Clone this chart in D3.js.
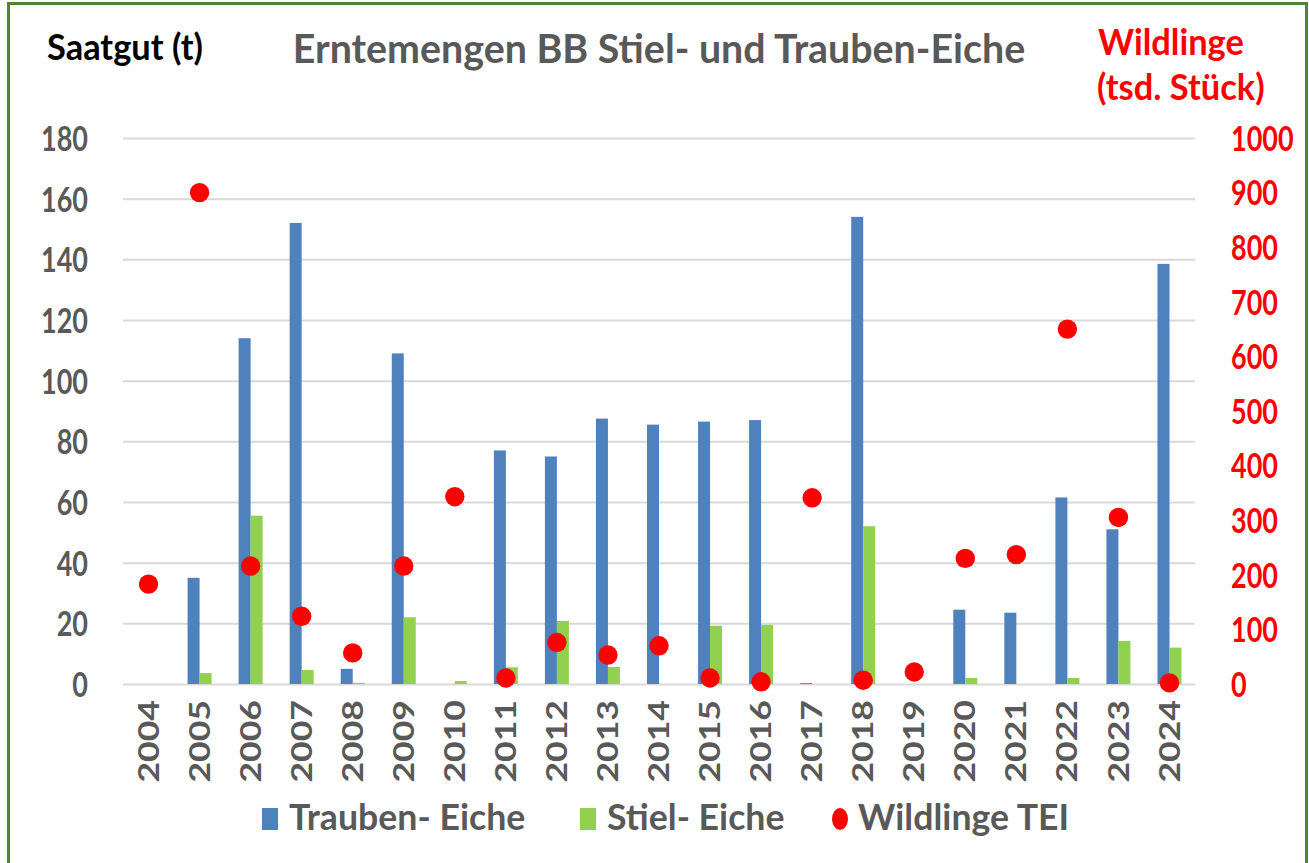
<!DOCTYPE html>
<html lang="de">
<head>
<meta charset="utf-8">
<title>Erntemengen BB Stiel- und Trauben-Eiche</title>
<script src="https://cdnjs.cloudflare.com/ajax/libs/d3/7.8.5/d3.min.js"></script>
<style>
  body { margin: 0; background: #fff; }
  svg text { font-family: Lato, "Open Sans", sans-serif; font-weight: bold; }
</style>
</head>
<body>
<div id="chart"></div>
<script>
// categories
var years = ["2004","2005","2006","2007","2008","2009","2010","2011","2012","2013","2014",
             "2015","2016","2017","2018","2019","2020","2021","2022","2023","2024"];
// Saatgut in t
var trauben = [0, 35, 114, 152, 5, 109, 0, 77, 75, 87.5, 85.5, 86.5, 87, 0.3, 154, 0, 24.5, 23.5, 61.5, 51, 138.5];
var stiel   = [0, 3.6, 55.5, 4.6, 0.4, 22, 1, 5.5, 20.8, 5.6, 0, 19.2, 19.5, 0, 52, 0, 2, 0, 2, 14.2, 12];
// Wildlinge in tsd. Stueck
var wildlinge = [183, 900, 216, 124, 57, 216, 343, 11, 76, 53, 70, 11, 4, 341, 7, 22, 230, 237, 650, 305, 2];
// tick labels
var leftTicks = [0, 20, 40, 60, 80, 100, 120, 140, 160, 180];
var rightTicks = [0, 100, 200, 300, 400, 500, 600, 700, 800, 900, 1000];

var W = 1309, H = 863;
var sy = 1.27; // text in the original is a bit stretched vertically
var sx = 1.23; // and the titles are wider than Lato
var grey = "#595959", red = "#ff0000";

var svg = d3.select("#chart").append("svg")
    .attr("width", W).attr("height", H);

// frame
svg.append("rect")
    .attr("x", 8.5).attr("y", 3.5)
    .attr("width", 1298).attr("height", 880)
    .attr("fill", "none").attr("stroke", "#548235").attr("stroke-width", 3);

var x = d3.scaleBand().domain(years).range([123, 1195]);
var yL = d3.scaleLinear().domain([0, 180]).range([684, 138]);
var yR = d3.scaleLinear().domain([0, 1000]).range([684, 138]);
var bw = 12;

// gridlines
svg.append("g")
    .attr("transform", "translate(123,0)")
    .call(d3.axisLeft(yL).tickValues(leftTicks).tickSize(-1072).tickFormat(""))
    .call(function(g){
        g.select(".domain").remove();
        g.selectAll("line").attr("stroke", "#d9d9d9").attr("stroke-width", 2);
    });

// left axis labels
svg.append("g")
    .attr("transform", "translate(88,0)")
    .call(d3.axisLeft(yL).tickValues(leftTicks).tickSize(0).tickPadding(0))
    .call(function(g){
        g.select(".domain").remove();
        g.selectAll("text")
            .attr("fill", grey).attr("font-size", 27)
            .attr("dy", "0.36em")
            .attr("transform", "scale(1," + sy + ")");
    });

// right axis labels
svg.append("g")
    .attr("transform", "translate(1231,0)")
    .call(d3.axisRight(yR).tickValues(rightTicks).tickSize(0).tickPadding(0).tickFormat(d3.format("d")))
    .call(function(g){
        g.select(".domain").remove();
        g.selectAll("text")
            .attr("fill", red).attr("font-size", 27)
            .attr("dy", "0.36em")
            .attr("transform", "scale(1," + sy + ")");
    });

// x axis labels
svg.append("g")
    .attr("transform", "translate(0,700)")
    .call(d3.axisBottom(x).tickSize(0).tickPadding(0))
    .call(function(g){
        g.select(".domain").remove();
        g.selectAll("text")
            .attr("fill", grey).attr("font-size", 28)
            .attr("text-anchor", "end")
            .attr("x", 0).attr("y", 0).attr("dy", "0.36em")
            .attr("transform", "scale(1," + sy + ") rotate(-90)");
    });

function cx(i){ return x(years[i]) + x.bandwidth() / 2; }

// bars
svg.append("g").selectAll("rect")
    .data(trauben).enter().append("rect")
    .attr("x", function(d,i){ return cx(i) - bw; })
    .attr("y", function(d){ return yL(d); })
    .attr("width", bw)
    .attr("height", function(d){ return yL(0) - yL(d); })
    .attr("fill", "#4f81bd");

svg.append("g").selectAll("rect")
    .data(stiel).enter().append("rect")
    .attr("x", function(d,i){ return cx(i); })
    .attr("y", function(d){ return yL(d); })
    .attr("width", bw)
    .attr("height", function(d){ return yL(0) - yL(d); })
    .attr("fill", "#92d050");

// dots
svg.append("g").selectAll("circle")
    .data(wildlinge).enter().append("circle")
    .attr("cx", function(d,i){ return cx(i); })
    .attr("cy", function(d){ return yR(d); })
    .attr("r", 9.7)
    .attr("fill", red);

// titles
function label(txt, px, py, size, color, anchor){
    svg.append("text")
        .attr("transform", "translate(" + px + "," + py + ") scale(" + sx + "," + sy + ")")
        .attr("text-anchor", anchor || "start")
        .attr("font-size", size)
        .attr("fill", color)
        .text(txt);
}
label("Saatgut (t)", 47, 60, 28, "#000");
label("Erntemengen BB Stiel- und Trauben-Eiche", 659, 63, 32, grey, "middle");
label("Wildlinge", 1098, 55, 28, red);
label("(tsd. Stück)", 1097, 100, 28, red);

// legend
var legend = [
    {name: "Trauben- Eiche", color: "#4f81bd", type: "rect", x: 262},
    {name: "Stiel- Eiche", color: "#92d050", type: "rect", x: 580},
    {name: "Wildlinge TEI", color: red, type: "dot", x: 831}
];
legend.forEach(function(l){
    if (l.type === "rect") {
        svg.append("rect").attr("x", l.x).attr("y", 808).attr("width", 16).attr("height", 22).attr("fill", l.color);
    } else {
        svg.append("ellipse").attr("cx", l.x + 9).attr("cy", 819).attr("rx", 8).attr("ry", 11).attr("fill", l.color);
    }
    label(l.name, l.x + 27, 830, 29, grey);
});
</script>
</body>
</html>
